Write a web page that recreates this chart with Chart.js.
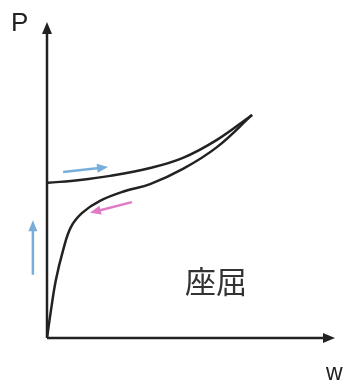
<!DOCTYPE html>
<html>
<head>
<meta charset="utf-8">
<script src="https://cdn.jsdelivr.net/npm/chart.js@4"></script>
<style>
  html, body { margin: 0; padding: 0; background: #fff; }
  #wrap { width: 343px; height: 381px; position: relative; }
</style>
</head>
<body>
<div id="wrap"><canvas id="chart"></canvas></div>
<script>
// load-deflection paths (w, P) in axis units, axes run 0..10
const lowerW = [0, 0.14, 0.31, 0.56, 0.83, 1.22, 1.84, 2.71, 3.58, 4.72, 5.90, 7.12];
const lowerP = [0, 0.89, 1.84, 2.78, 3.51, 3.96, 4.34, 4.65, 4.87, 5.35, 6.04, 7.06];
const upperW = [0.03, 1.15, 2.19, 3.58, 4.72, 5.90, 7.12];
const upperP = [4.91, 5.00, 5.13, 5.38, 5.70, 6.27, 7.06];

// direction arrows: [w0, P0, w1, P1]
const blueArrows = [[0.56, 5.25, 2.12, 5.41], [-0.49, 2.00, -0.49, 3.73]];
const pinkArrows = [[2.95, 4.30, 1.49, 3.96]];

const axisMax = 10;
const labelP = 'P';
const labelW = 'w';
const labelBuckling = '座屈';

const toPoints = (xs, ys) => xs.map((x, i) => ({ x: x, y: ys[i] }));

function arrowHead(ctx, x0, y0, x1, y1, len, half, color) {
    const a = Math.atan2(y1 - y0, x1 - x0);
    ctx.fillStyle = color;
    ctx.beginPath();
    ctx.moveTo(x1, y1);
    ctx.lineTo(x1 - len * Math.cos(a) + half * Math.sin(a), y1 - len * Math.sin(a) - half * Math.cos(a));
    ctx.lineTo(x1 - len * Math.cos(a) - half * Math.sin(a), y1 - len * Math.sin(a) + half * Math.cos(a));
    ctx.closePath();
    ctx.fill();
}

function arrow(ctx, x0, y0, x1, y1, color, width, len, half) {
    const a = Math.atan2(y1 - y0, x1 - x0);
    ctx.strokeStyle = color;
    ctx.lineWidth = width;
    ctx.beginPath();
    ctx.moveTo(x0, y0);
    ctx.lineTo(x1 - len * 0.6 * Math.cos(a), y1 - len * 0.6 * Math.sin(a));
    ctx.stroke();
    arrowHead(ctx, x0, y0, x1, y1, len, half, color);
}

const decor = {
    id: 'decor',
    afterDatasetsDraw(chart) {
        const ctx = chart.ctx;
        const xs = chart.scales.x, ys = chart.scales.y;
        const px = v => xs.getPixelForValue(v);
        const py = v => ys.getPixelForValue(v);
        ctx.save();

        // axes with arrow tips
        arrow(ctx, px(0), py(0), px(axisMax), py(0), '#222', 2.5, 12, 5);
        arrow(ctx, px(0), py(0), px(0), py(axisMax), '#222', 2.5, 12, 5);

        blueArrows.forEach(a => arrow(ctx, px(a[0]), py(a[1]), px(a[2]), py(a[3]), '#78aedb', 2.5, 11, 4.5));
        pinkArrows.forEach(a => arrow(ctx, px(a[0]), py(a[1]), px(a[2]), py(a[3]), '#e07ac6', 2.5, 11, 4.5));

        ctx.fillStyle = '#222';
        ctx.textBaseline = 'alphabetic';
        ctx.font = '26px "Liberation Sans", Arial, sans-serif';
        ctx.textAlign = 'left';
        ctx.fillText(labelP, 11, 31);
        ctx.font = '23px "Liberation Sans", Arial, sans-serif';
        ctx.fillText(labelW, 326, 380);
        ctx.fillStyle = '#333';
        ctx.font = '31px "Noto Sans CJK JP", sans-serif';
        ctx.fillText(labelBuckling, 185, 293);
        ctx.restore();
    }
};

const lineStyle = {
    borderColor: '#222',
    borderWidth: 2.5,
    pointRadius: 0,
    showLine: true,
    fill: false,
    tension: 0.4
};

new Chart(document.getElementById('chart'), {
    type: 'scatter',
    data: {
        datasets: [
            Object.assign({ label: 'lower', data: toPoints(lowerW, lowerP) }, lineStyle),
            Object.assign({ label: 'upper', data: toPoints(upperW, upperP) }, lineStyle)
        ]
    },
    options: {
        responsive: true,
        maintainAspectRatio: false,
        animation: false,
        layout: { padding: { left: 47, right: 8, top: 22, bottom: 43 } },
        plugins: { legend: { display: false }, tooltip: { enabled: false } },
        scales: {
            x: { type: 'linear', display: false, min: 0, max: axisMax },
            y: { type: 'linear', display: false, min: 0, max: axisMax }
        }
    },
    plugins: [decor]
});
</script>
</body>
</html>
